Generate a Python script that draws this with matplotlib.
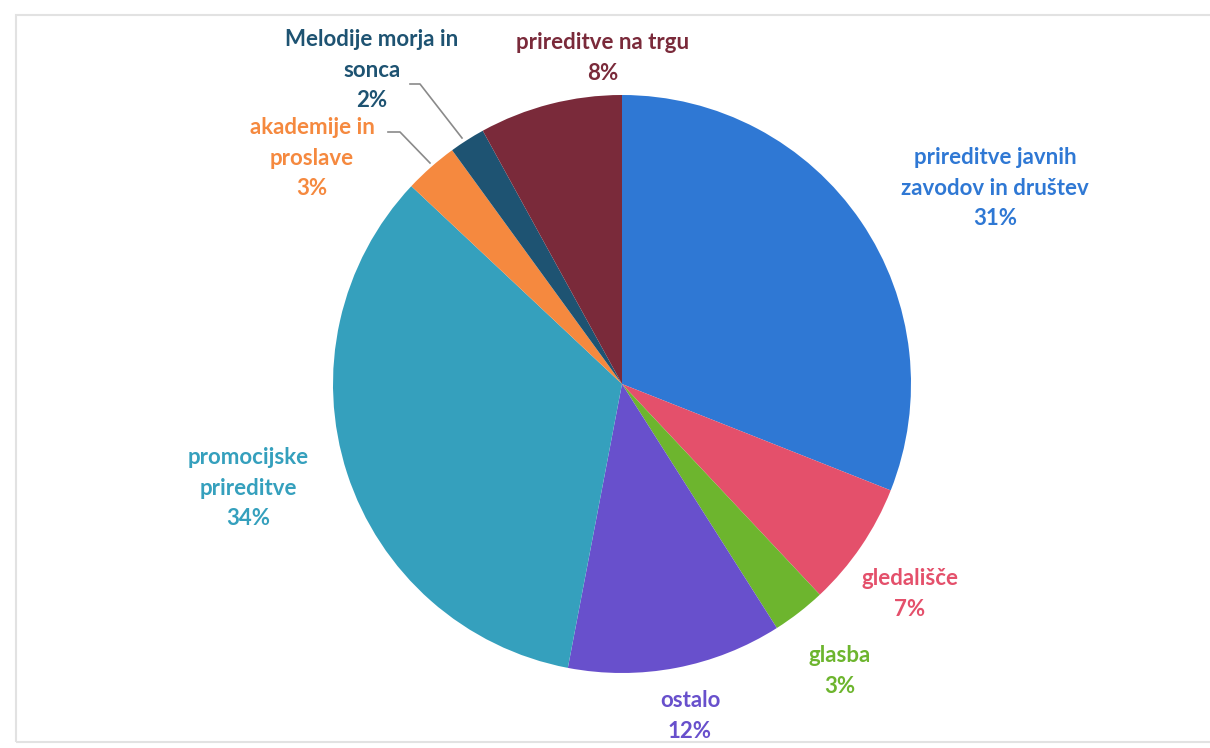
import matplotlib.pyplot as plt
from matplotlib.patches import Rectangle

# podatki
kategorije = ['prireditve javnih\nzavodov in društev', 'gledališče', 'glasba', 'ostalo',
              'promocijske\nprireditve', 'akademije in\nproslave', 'Melodije morja in\nsonca',
              'prireditve na trgu']
deleži = [31, 7, 3, 12, 34, 3, 2, 8]
barve = ['#2F78D4', '#E4506B', '#6DB52E', '#6850CC', '#35A0BD', '#F5893F', '#1E5372', '#7A2A3A']

# postavitev (pikslji, y od zgoraj)
W, H = 1210, 748
cx, cy, r = 622, 384, 289
label_pos = [(995, 188), (910, 594), (840, 671), (690, 716),
             (248, 488), (312, 158), (372, 70), (603, 58)]

def Y(y):
    return H - y

fig = plt.figure(figsize=(12.1, 7.48), dpi=100)
ax = fig.add_axes([0, 0, 1, 1])

ax.pie(deleži, colors=barve, startangle=90, counterclock=False,
       center=(cx, Y(cy)), radius=r, wedgeprops=dict(linewidth=0))

for lab, val, col, (x, y) in zip(kategorije, deleži, barve, label_pos):
    ax.text(x, Y(y), f'{lab}\n{val}%', color=col, ha='center', va='center',
            fontsize=16, fontweight='bold', family='Lato', linespacing=1.55)

# povezovalne črte
ax.plot([410, 420, 462], [Y(84), Y(84), Y(138)], color='#8a8a8a', lw=1.2)
ax.plot([388, 400, 430], [Y(132), Y(132), Y(163)], color='#8a8a8a', lw=1.2)

# okvir
ax.add_patch(Rectangle((16, Y(742)), 1300, 742 - 15, fill=False,
                       edgecolor='#e2e2e2', lw=1.5))

ax.set_xlim(0, W)
ax.set_ylim(0, H)
ax.set_aspect('equal')
ax.axis('off')

fig.savefig('out.png', dpi=100)
